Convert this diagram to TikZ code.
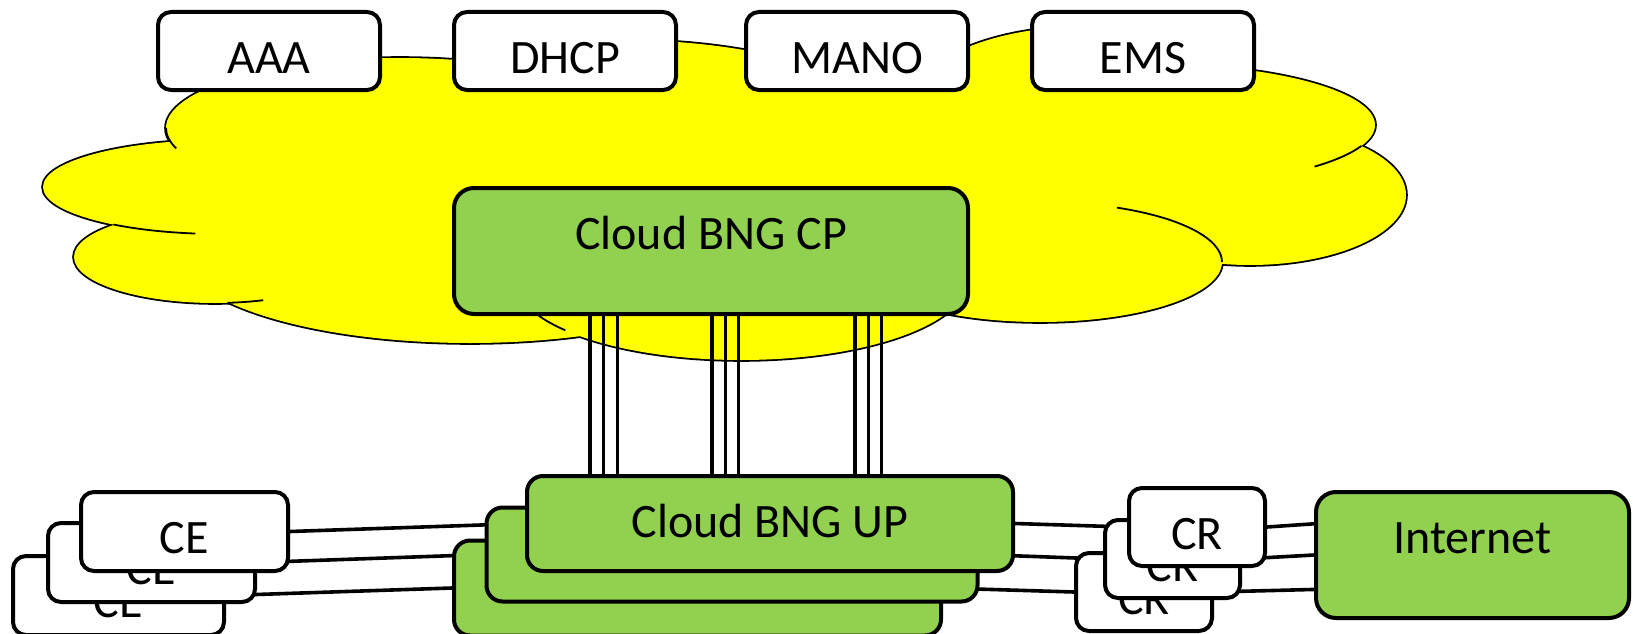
\documentclass[tikz,border=0pt]{standalone}
\usepackage{fontspec}
\setmainfont{Carlito}
\usetikzlibrary{calc}
\pgfdeclarelayer{cloudlayer}
\pgfdeclarelayer{linelayer}
\pgfsetlayers{cloudlayer,linelayer,main}
\definecolor{cloudyellow}{HTML}{FFFF00}
\definecolor{boxgreen}{HTML}{92D050}
\begin{document}
\begin{tikzpicture}[x=1pt,y=-1pt,
  wbox/.style={draw=black, line width=4pt, fill=white, rounded corners=13pt, inner sep=0pt},
  gbox/.style={draw=black, line width=4pt, fill=boxgreen, rounded corners=16pt, inner sep=0pt},
  bigbox/.style={gbox, rounded corners=20pt},
  lbl/.style={anchor=base, inner sep=0pt, font=\fontsize{48}{52}\selectfont},
  conn/.style={draw=black, line width=3.6pt},
  cloudline/.style={draw=black, line width=1.8pt}]
\useasboundingbox (0,0) rectangle (1633,634);

% ---- top boxes
\node[wbox, minimum width=222pt, minimum height=78pt] (aaa) at (269,51) {};
\node[lbl] (aaat) at ($(aaa.north)+(0,63.5)$) {AAA};
\node[wbox, minimum width=222pt, minimum height=78pt] (dhcp) at (565,51) {};
\node[lbl] (dhcpt) at ($(dhcp.north)+(0,63.5)$) {DHCP};
\node[wbox, minimum width=222pt, minimum height=78pt] (mano) at (857,51) {};
\node[lbl] (manot) at ($(mano.north)+(0,63.5)$) {MANO};
\node[wbox, minimum width=222pt, minimum height=78pt] (ems) at (1143,51) {};
\node[lbl] (emst) at ($(ems.north)+(0,63.5)$) {EMS};

% ---- control plane
\node[bigbox, minimum width=514pt, minimum height=126pt] (cp) at (711,251) {};
\node[lbl] (cpt) at ($(cp.north)+(0,63.5)$) {Cloud BNG CP};

% ---- user plane stack
\node[gbox, minimum width=487pt, minimum height=95pt] (upb) at (697.5,588) {};
\node[gbox, minimum width=491pt, minimum height=94pt] (upm) at (732,554.5) {};
\node[gbox, minimum width=486pt, minimum height=95pt] (upf) at (770,523.5) {};
\node[lbl] (upft) at ($(upf.north)+(0,63.5)$) {Cloud BNG UP};

% ---- CE stack
\node[wbox, minimum width=211pt, minimum height=79pt] (ceb) at (118.5,595.5) {};
\node[lbl] (cebt) at ($(ceb.north)+(0,63.5)$) {CE};
\node[wbox, minimum width=207pt, minimum height=79pt] (cem) at (151.5,562.5) {};
\node[lbl] (cemt) at ($(cem.north)+(0,63.5)$) {CE};
\node[wbox, minimum width=207pt, minimum height=79pt] (cef) at (184.5,531.5) {};
\node[lbl] (ceft) at ($(cef.north)+(0,63.5)$) {CE};

% ---- CR stack
\node[wbox, minimum width=136pt, minimum height=78pt] (crb) at (1144,592) {};
\node[lbl] (crbt) at ($(crb.north)+(0,63.5)$) {CR};
\node[wbox, minimum width=135pt, minimum height=78pt] (crm) at (1172.5,559) {};
\node[lbl] (crmt) at ($(crm.north)+(0,63.5)$) {CR};
\node[wbox, minimum width=136pt, minimum height=78pt] (crf) at (1197,527) {};
\node[lbl] (crft) at ($(crf.north)+(0,63.5)$) {CR};

% ---- Internet
\node[bigbox, minimum width=313pt, minimum height=126pt] (inet) at (1472.5,555) {};
\node[lbl] (inett) at ($(inet.north)+(0,63.5)$) {Internet};

% ---- connectors
\begin{pgfonlayer}{linelayer}
\foreach \vx [count=\i] in {590,603.5,617.5,712,725.5,738.5,855,868.5,881.5} {
  \coordinate (vx\i) at (\vx,400);
  \draw[conn] (cp.south -| vx\i) -- (upf.north -| vx\i);
}
\draw[conn] (cef.east) -- (upf.west);
\draw[conn] (cem.east) -- (upm.west);
\draw[conn] (ceb.east) -- (upb.west);
\draw[conn] (upf.east) -- (crf.west);
\draw[conn] (upm.east) -- (crm.west);
\draw[conn] (upb.east) -- (crb.west);
\coordinate (inetA) at ($(inet.north west)!0.26!(inet.south west)$);
\coordinate (inetC) at ($(inet.north west)!0.765!(inet.south west)$);
\draw[conn] (crf.east) -- (inetA);
\draw[conn] (crm.east) -- (inet.west);
\draw[conn] (crb.east) -- (inetC);
\end{pgfonlayer}

% ---- cloud
\begin{pgfonlayer}{cloudlayer}
\def\lobes{400/128/234/70, 620/130/270/90, 860/135/240/95, 1080/125/185/98, 1150/125/225/61, 220/187/177/47, 215/257/141/46, 470/250/292/93, 741/280/226/80, 1040/262/182/60, 1250/195/156/70, 700/190/500/120}
\foreach \cx/\cy/\rx/\ry in \lobes {
  \draw[line width=3.6pt, fill=cloudyellow] (\cx,\cy) ellipse [x radius=\rx, y radius=\ry];
}
\foreach \cx/\cy/\rx/\ry in \lobes {
  \fill[cloudyellow] (\cx,\cy) ellipse [x radius=\rx, y radius=\ry];
}
\draw[cloudline] (400,128) ++(180:234 and 70) arc[start angle=180, end angle=163, x radius=234, y radius=70];
\draw[cloudline] (1150,125) ++(20:225 and 61) arc[start angle=20, end angle=43, x radius=225, y radius=61];
\draw[cloudline] (220,187) ++(127:177 and 47) arc[start angle=127, end angle=98, x radius=177, y radius=47];
\draw[cloudline] (215,257) ++(85:141 and 46) arc[start angle=85, end angle=70, x radius=141, y radius=46];
\draw[cloudline] (741,280) ++(168:226 and 80) arc[start angle=168, end angle=141, x radius=226, y radius=80];
\draw[cloudline] (1040,262) ++(-65:182 and 60) arc[start angle=-65, end angle=0, x radius=182, y radius=60];
\end{pgfonlayer}
\end{tikzpicture}
\end{document}
